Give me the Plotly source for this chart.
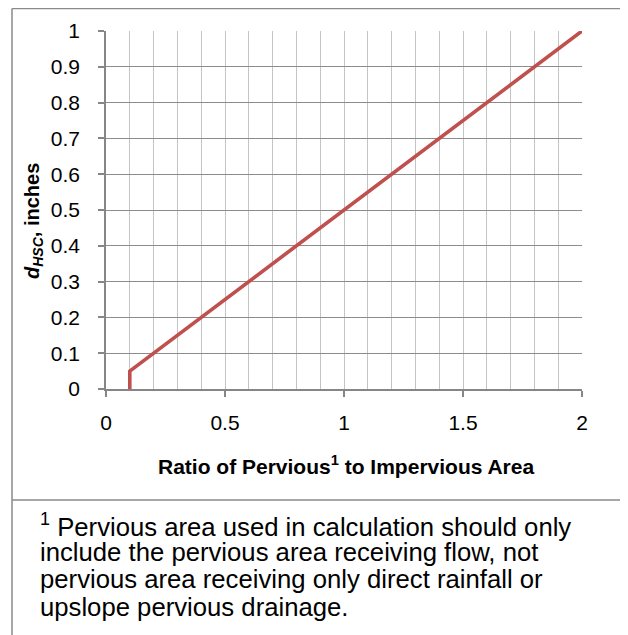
import plotly.graph_objects as go

# ---- data ----
ratio = [0.1, 0.1, 2.0]
d_hsc = [0.0, 0.05, 1.0]
x_tick_vals = [0, 0.5, 1, 1.5, 2]
x_tick_text = ["0", "0.5", "1", "1.5", "2"]
y_tick_vals = [0, 0.1, 0.2, 0.3, 0.4, 0.5, 0.6, 0.7, 0.8, 0.9, 1]
y_tick_text = ["0", "0.1", "0.2", "0.3", "0.4", "0.5", "0.6", "0.7", "0.8", "0.9", "1"]
x_title = "<b>Ratio of Pervious<sup>1</sup> to Impervious Area</b>"
y_title = "<b><i>d</i><sub><i>HSC</i></sub>, inches</b>"
footnote_lines = [
    "<sup>1</sup> Pervious area used in calculation should only",
    "include the pervious area receiving flow, not",
    "pervious area receiving only direct rainfall or",
    "upslope pervious drainage.",
]

# page has an 8px body margin; work in screen pixels and shift
OFF = 8
W, H = 628 - OFF, 635 - OFF
# plot area in screen pixels
SX0, SX1, SY0, SY1 = 106, 582, 31, 389
L, R, T, B = SX0 - OFF, W - (SX1 - OFF), SY0 - OFF, H - (SY1 - OFF)
PW, PH = W - L - R, H - T - B


def px(p):
    return (p - OFF - L) / PW


def py(p):
    return (H - B - (p - OFF)) / PH


FONT = "Liberation Sans, Arial, sans-serif"

fig = go.Figure()
fig.add_trace(go.Scatter(x=ratio, y=d_hsc, mode="lines",
                         line=dict(color="#C0504D", width=3.6),
                         cliponaxis=False, showlegend=False))

fig.update_xaxes(range=[0, 2], tickvals=x_tick_vals, ticktext=x_tick_text,
                 showgrid=True, gridcolor="#c4c4c4", gridwidth=1,
                 minor=dict(dtick=0.1, showgrid=True, gridcolor="#c4c4c4", gridwidth=1, ticks=""),
                 showline=True, linecolor="#868686", linewidth=1.5,
                 ticks="outside", ticklen=6, tickcolor="#868686", tickwidth=1.5,
                 ticklabelstandoff=8, zeroline=False,
                 tickfont=dict(family=FONT, size=21, color="#000"))
fig.update_yaxes(range=[0, 1], tickvals=y_tick_vals, ticktext=y_tick_text,
                 showgrid=True, gridcolor="#8c8c8c", gridwidth=1,
                 showline=True, linecolor="#868686", linewidth=1.5,
                 ticks="outside", ticklen=6, tickcolor="#868686", tickwidth=1.5,
                 ticklabelstandoff=14, zeroline=False,
                 tickfont=dict(family=FONT, size=21, color="#000"))

annotations = [
    dict(text=x_title, x=px(346), y=py(465), xref="paper", yref="paper",
         xanchor="center", yanchor="middle", showarrow=False,
         font=dict(family=FONT, size=21, color="#000")),
    dict(text=y_title, x=px(33), y=py(221), xref="paper", yref="paper",
         xanchor="center", yanchor="middle", showarrow=False, textangle=-90,
         font=dict(family=FONT, size=20, color="#000")),
]
baselines = [533, 560, 587, 615]
for line, b in zip(footnote_lines, baselines):
    annotations.append(dict(text=line, x=px(38), y=py(b - 8), xref="paper", yref="paper",
                            xanchor="left", yanchor="middle", showarrow=False,
                            font=dict(family=FONT, size=25.7, color="#000")))

frame = dict(color="#8a8a8a", width=1.5)
shapes = [
    dict(type="line", xref="paper", yref="paper", x0=px(12), x1=px(640), y0=py(8.5), y1=py(8.5), line=frame),
    dict(type="line", xref="paper", yref="paper", x0=px(12), x1=px(12), y0=py(8.5), y1=py(640), line=frame),
    dict(type="line", xref="paper", yref="paper", x0=px(12), x1=px(640), y0=py(500), y1=py(500), line=frame),
]

fig.update_layout(width=W, height=H, margin=dict(l=L, r=R, t=T, b=B),
                  paper_bgcolor="white", plot_bgcolor="white",
                  annotations=annotations, shapes=shapes, showlegend=False)
fig.write_html("out.html")
